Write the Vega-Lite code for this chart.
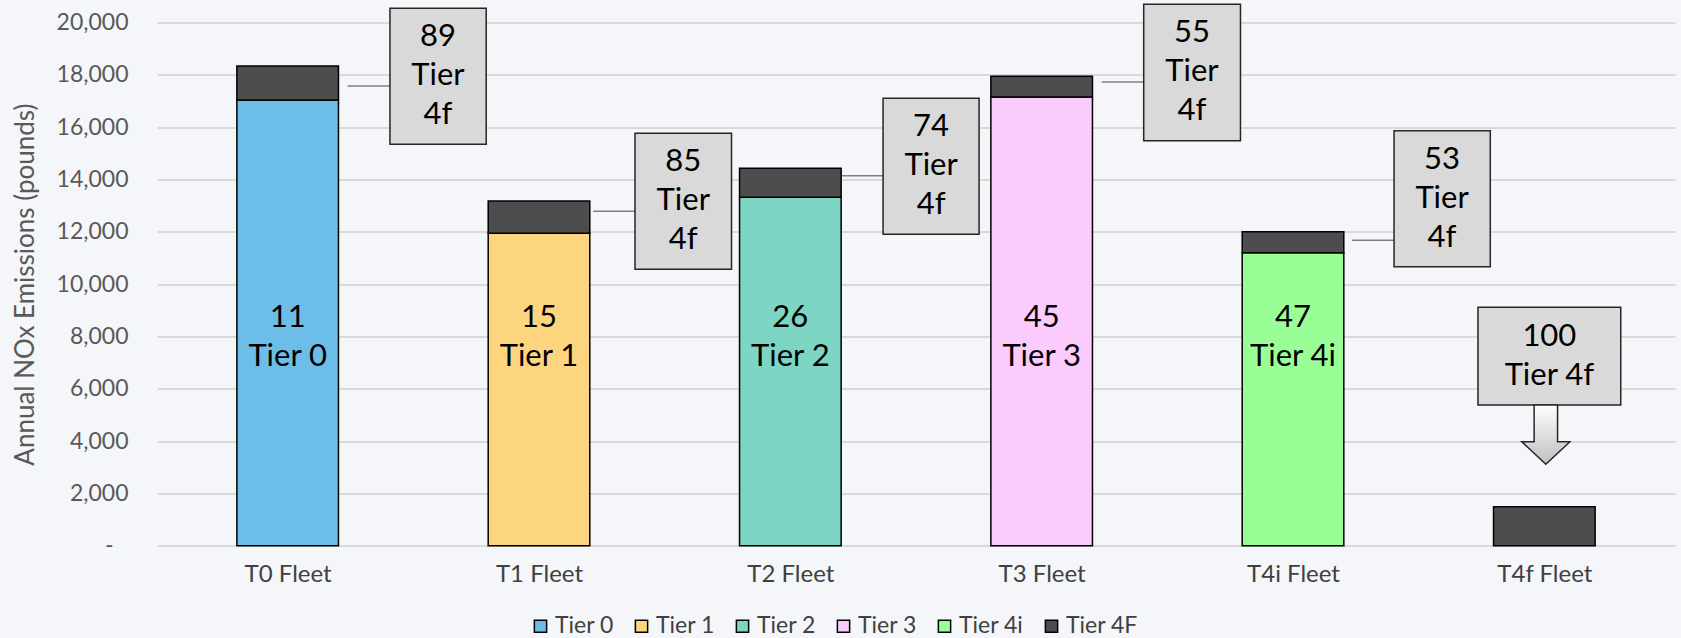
{
  "$schema": "https://vega.github.io/schema/vega-lite/v6.json",
  "width": 1518,
  "height": 523.2,
  "autosize": {"type": "none"},
  "padding": {"left": 157, "top": 22.5, "right": 6, "bottom": 92.3},
  "background": "#f4f6f9",
  "config": {
    "font": "Lato",
    "view": {"stroke": null},
    "axis": {"labelFont": "Lato", "titleFont": "Lato"}
  },
  "datasets": {
    "bars": [
      {"fleet": "T0 Fleet", "idx": 0, "tier": "Tier 0", "segment": "a_base", "nox": 17040},
      {"fleet": "T0 Fleet", "idx": 0, "tier": "Tier 4F", "segment": "b_top", "nox": 1300},
      {"fleet": "T1 Fleet", "idx": 1, "tier": "Tier 1", "segment": "a_base", "nox": 11940},
      {"fleet": "T1 Fleet", "idx": 1, "tier": "Tier 4F", "segment": "b_top", "nox": 1240},
      {"fleet": "T2 Fleet", "idx": 2, "tier": "Tier 2", "segment": "a_base", "nox": 13320},
      {"fleet": "T2 Fleet", "idx": 2, "tier": "Tier 4F", "segment": "b_top", "nox": 1110},
      {"fleet": "T3 Fleet", "idx": 3, "tier": "Tier 3", "segment": "a_base", "nox": 17150},
      {"fleet": "T3 Fleet", "idx": 3, "tier": "Tier 4F", "segment": "b_top", "nox": 800},
      {"fleet": "T4i Fleet", "idx": 4, "tier": "Tier 4i", "segment": "a_base", "nox": 11200},
      {"fleet": "T4i Fleet", "idx": 4, "tier": "Tier 4F", "segment": "b_top", "nox": 800},
      {"fleet": "T4f Fleet", "idx": 5, "tier": "Tier 4F", "segment": "b_top", "nox": 1490}
    ],
    "barlabels": [
      {"idx": 0, "label": "11\nTier 0"},
      {"idx": 1, "label": "15\nTier 1"},
      {"idx": 2, "label": "26\nTier 2"},
      {"idx": 3, "label": "45\nTier 3"},
      {"idx": 4, "label": "47\nTier 4i"}
    ],
    "callouts": [
      {"idx": 0, "label": "89\nTier\n4f", "x1": 0.407, "x2": 0.79, "y1": 15346, "y2": 20545, "cx": 0.598, "cy": 19459},
      {"idx": 1, "label": "85\nTier\n4f", "x1": 1.382, "x2": 1.766, "y1": 10567, "y2": 15766, "cx": 1.574, "cy": 14657},
      {"idx": 2, "label": "74\nTier\n4f", "x1": 2.369, "x2": 2.751, "y1": 11905, "y2": 17104, "cx": 2.56, "cy": 15995},
      {"idx": 3, "label": "55\nTier\n4f", "x1": 3.406, "x2": 3.791, "y1": 15483, "y2": 20698, "cx": 3.598, "cy": 19581},
      {"idx": 4, "label": "53\nTier\n4f", "x1": 4.402, "x2": 4.785, "y1": 10666, "y2": 15865, "cx": 4.593, "cy": 14757},
      {"idx": 5, "label": "100\nTier 4f", "x1": 4.736, "x2": 5.304, "y1": 5379, "y2": 9114, "cx": 5.02, "cy": 7990}
    ],
    "leaders": [
      {"idx": 0, "lx1": 0.239, "lx2": 0.407, "ly": 17574},
      {"idx": 1, "lx1": 1.2155, "lx2": 1.382, "ly": 12784},
      {"idx": 2, "lx1": 2.205, "lx2": 2.369, "ly": 14145},
      {"idx": 3, "lx1": 3.239, "lx2": 3.406, "ly": 17727},
      {"idx": 4, "lx1": 4.234, "lx2": 4.402, "ly": 11675}
    ],
    "arrow": [
      {"idx": 5, "ax": 5.006, "ay": 4245}
    ]
  },
  "layer": [
    {
      "data": {"name": "bars"},
      "mark": {"type": "bar", "width": 101.6, "stroke": "#000000", "strokeWidth": 1.5},
      "encoding": {
        "x": {
          "field": "idx", "type": "quantitative", "title": null,
          "scale": {"domain": [-0.5, 5.5], "nice": false, "zero": false},
          "axis": {
            "values": [0, 1, 2, 3, 4, 5],
            "labelExpr": "['T0 Fleet','T1 Fleet','T2 Fleet','T3 Fleet','T4i Fleet','T4f Fleet'][datum.value]",
            "grid": false, "ticks": false, "domain": false,
            "labelFontSize": 24, "labelColor": "#404040", "labelPadding": 17
          }
        },
        "y": {
          "field": "nox", "type": "quantitative", "stack": "zero",
          "title": "Annual NOx Emissions (pounds)",
          "scale": {"domain": [0, 20000], "nice": false},
          "axis": {
            "values": [0, 2000, 4000, 6000, 8000, 10000, 12000, 14000, 16000, 18000, 20000],
            "labelExpr": "datum.value == 0 ? '-' : format(datum.value, ',')",
            "titleFontSize": 26, "titleFontWeight": "normal", "titleColor": "#595959", "titlePadding": 18,
            "labelFontSize": 23, "labelColor": "#595959",
            "labelPadding": {"condition": {"test": "datum.value == 0", "value": 44}, "value": 29},
            "grid": true, "gridColor": "#d9d9d9", "gridWidth": 2,
            "ticks": false, "domain": false
          }
        },
        "color": {
          "field": "tier", "type": "nominal",
          "scale": {
            "domain": ["Tier 0", "Tier 1", "Tier 2", "Tier 3", "Tier 4i", "Tier 4F"],
            "range": ["#6cbee8", "#fdd57e", "#7dd5c4", "#fccbfd", "#9afe97", "#4d4d4f"]
          },
          "legend": {
            "orient": "none", "legendX": 372, "legendY": 592, "direction": "horizontal",
            "title": null, "symbolType": "square", "symbolSize": 150,
            "symbolStrokeColor": "#000000", "symbolStrokeWidth": 1.5,
            "labelFontSize": 23, "labelColor": "#404040", "columnPadding": 16, "labelOffset": 3, "padding": 0
          }
        },
        "order": {"field": "segment"}
      }
    },
    {
      "data": {"name": "barlabels"},
      "mark": {"type": "text", "lineBreak": "\n", "fontSize": 31, "lineHeight": 39, "baseline": "middle", "align": "center", "color": "#000000"},
      "encoding": {
        "x": {"field": "idx", "type": "quantitative", "title": null},
        "y": {"datum": 8705, "type": "quantitative", "title": "Annual NOx Emissions (pounds)"},
        "text": {"field": "label"}
      }
    },
    {
      "data": {"name": "leaders"},
      "mark": {"type": "rule", "stroke": "#7f7f7f", "strokeWidth": 1.5},
      "encoding": {
        "x": {"field": "lx1", "type": "quantitative", "title": null},
        "x2": {"field": "lx2"},
        "y": {"field": "ly", "type": "quantitative", "title": "Annual NOx Emissions (pounds)"}
      }
    },
    {
      "data": {"name": "callouts"},
      "mark": {"type": "rect", "fill": "#d9d9d9", "stroke": "#262626", "strokeWidth": 1.5},
      "encoding": {
        "x": {"field": "x1", "type": "quantitative", "title": null},
        "x2": {"field": "x2"},
        "y": {"field": "y1", "type": "quantitative", "title": "Annual NOx Emissions (pounds)"},
        "y2": {"field": "y2"}
      }
    },
    {
      "data": {"name": "callouts"},
      "mark": {"type": "text", "lineBreak": "\n", "fontSize": 31, "lineHeight": 39, "baseline": "middle", "align": "center", "color": "#000000"},
      "encoding": {
        "x": {"field": "cx", "type": "quantitative", "title": null},
        "y": {"field": "cy", "type": "quantitative", "title": "Annual NOx Emissions (pounds)"},
        "text": {"field": "label"}
      }
    },
    {
      "data": {"name": "arrow"},
      "mark": {
        "type": "point", "filled": true,
        "shape": "M-0.395,-1 L0.395,-1 L0.395,0.238 L0.81,0.238 L0,1 L-0.81,0.238 L-0.395,0.238 Z",
        "size": 3517,
        "fill": {"gradient": "linear", "x1": 0, "y1": 0, "x2": 0, "y2": 1, "stops": [{"offset": 0, "color": "#ffffff"}, {"offset": 1, "color": "#bfbfbf"}]},
        "stroke": "#262626", "strokeWidth": 1.5, "opacity": 1
      },
      "encoding": {
        "x": {"field": "ax", "type": "quantitative", "title": null},
        "y": {"field": "ay", "type": "quantitative", "title": "Annual NOx Emissions (pounds)"}
      }
    }
  ]
}
